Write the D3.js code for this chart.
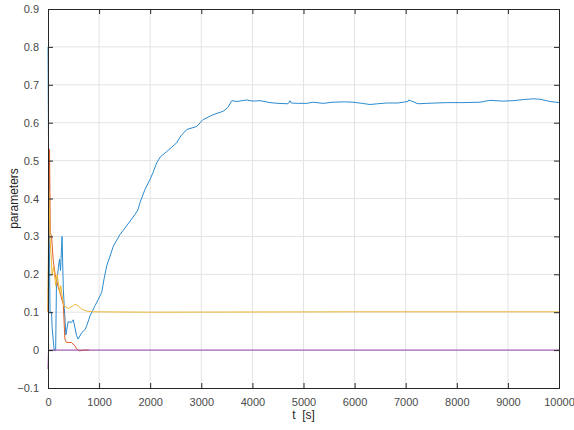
<!DOCTYPE html>
<html>
<head>
<meta charset="utf-8">
<script src="https://cdn.jsdelivr.net/npm/d3@7"></script>
<style>
  body { margin: 0; background: #fff; }
  svg { font-family: "Liberation Sans", Arial, sans-serif; }
</style>
</head>
<body>
<div id="chart"></div>
<script>
// series: [t, value]
const blueSeries = [
  [0, 0.80], [10, 0.55], [25, 0.30], [40, 0.10], [70, 0.10], [80, 0.06], [120, 0.0], [150, 0.0],
  [165, 0.17], [205, 0.22], [225, 0.24], [245, 0.21], [275, 0.30], [300, 0.16], [320, 0.11],
  [350, 0.04], [395, 0.075], [460, 0.073], [495, 0.08], [560, 0.038], [590, 0.029], [660, 0.046],
  [730, 0.055], [760, 0.065], [822, 0.09], [920, 0.117], [1051, 0.152], [1100, 0.19], [1149, 0.222],
  [1278, 0.274], [1409, 0.305], [1550, 0.33], [1703, 0.358], [1760, 0.37], [1800, 0.389],
  [1898, 0.424], [1996, 0.45], [2060, 0.47], [2127, 0.494], [2200, 0.51], [2323, 0.524],
  [2420, 0.535], [2518, 0.547], [2600, 0.565], [2714, 0.582], [2910, 0.59], [3033, 0.608],
  [3170, 0.617], [3229, 0.621], [3425, 0.63], [3520, 0.64], [3595, 0.658], [3700, 0.656],
  [3888, 0.66], [4000, 0.657], [4149, 0.658], [4344, 0.653], [4500, 0.651], [4697, 0.65],
  [4736, 0.658], [4760, 0.652], [4900, 0.651], [5063, 0.651], [5186, 0.654], [5382, 0.651],
  [5577, 0.654], [5800, 0.655], [5969, 0.654], [6150, 0.651], [6301, 0.648], [6450, 0.650],
  [6628, 0.652], [6850, 0.652], [7045, 0.656], [7060, 0.66], [7241, 0.650], [7411, 0.651],
  [7600, 0.652], [7802, 0.653], [8100, 0.653], [8454, 0.654], [8650, 0.659], [8900, 0.657],
  [9100, 0.658], [9300, 0.661], [9491, 0.663], [9628, 0.662], [9824, 0.656], [10000, 0.653]
];
const orangeSeries = [
  [0, 0.10], [30, 0.53], [45, 0.31], [70, 0.30], [100, 0.24], [140, 0.20], [190, 0.17],
  [240, 0.15], [270, 0.134], [300, 0.12], [330, 0.029], [365, 0.02], [460, 0.02], [530, 0.011],
  [560, 0.003], [620, -0.002], [700, 0.0], [800, 0.0]
];
const yellowSeries = [
  [0, 0.10], [15, 0.42], [40, 0.30], [80, 0.20], [110, 0.22], [150, 0.17], [180, 0.20],
  [230, 0.15], [250, 0.17], [280, 0.14], [310, 0.117], [400, 0.11], [490, 0.117], [530, 0.121],
  [590, 0.117], [660, 0.108], [760, 0.103], [890, 0.101], [2000, 0.100], [6000, 0.101],
  [10000, 0.101]
];
const purpleSeries = [
  [0, -0.05], [10, 0.0], [10000, 0.0]
];

const seriesList = [blueSeries, orangeSeries, yellowSeries, purpleSeries];
const seriesColors = ["#2b8bd0", "#e0602b", "#f0b733", "#9645a6"];

const xTicks = [0, 1000, 2000, 3000, 4000, 5000, 6000, 7000, 8000, 9000, 10000];
const yTicks = [-0.1, 0, 0.1, 0.2, 0.3, 0.4, 0.5, 0.6, 0.7, 0.8, 0.9];

const width = 574, height = 430;
const margin = {top: 9, right: 15, bottom: 42, left: 48};
const plotW = width - margin.left - margin.right;
const plotH = height - margin.top - margin.bottom;

const svg = d3.select("#chart").append("svg")
  .attr("width", width)
  .attr("height", height);

const g = svg.append("g")
  .attr("transform", `translate(${margin.left},${margin.top})`);

const x = d3.scaleLinear().domain([0, 10000]).range([0, plotW]);
const y = d3.scaleLinear().domain([-0.1, 0.9]).range([plotH, 0]);

// grid
g.append("g").selectAll("line.vg").data(xTicks.slice(1, -1)).enter().append("line")
  .attr("x1", d => x(d)).attr("x2", d => x(d))
  .attr("y1", 0).attr("y2", plotH)
  .style("stroke", "#e3e3e3").style("stroke-width", 1);
g.append("g").selectAll("line.hg").data(yTicks.slice(1, -1)).enter().append("line")
  .attr("x1", 0).attr("x2", plotW)
  .attr("y1", d => y(d)).attr("y2", d => y(d))
  .style("stroke", "#e3e3e3").style("stroke-width", 1);

// data lines
const line = d3.line().x(d => x(d[0])).y(d => y(d[1]));
g.append("g").selectAll("path").data(seriesList).enter().append("path")
  .attr("d", line)
  .style("fill", "none")
  .style("stroke", (d, i) => seriesColors[i])
  .style("stroke-width", 1)
  .style("stroke-linejoin", "round");

// axes (ticks inward, on all four sides)
const axisColor = "#262626";
const xAxis = d3.axisBottom(x).tickValues(xTicks).tickSize(-5).tickPadding(10).tickFormat(d3.format("d"));
const yAxis = d3.axisLeft(y).tickValues(yTicks).tickSize(-5).tickPadding(9)
  .tickFormat(d => d === 0 ? "0" : d3.format(".1f")(d));

const xa = g.append("g").attr("transform", `translate(0,${plotH})`).call(xAxis);
const ya = g.append("g").call(yAxis);
const xTop = g.append("g").call(d3.axisTop(x).tickValues(xTicks).tickSize(-5).tickFormat(""));
const yRight = g.append("g").attr("transform", `translate(${plotW},0)`)
  .call(d3.axisRight(y).tickValues(yTicks).tickSize(-5).tickFormat(""));

[xa, ya, xTop, yRight].forEach(a => {
  a.select(".domain").style("stroke", axisColor);
  a.selectAll(".tick line").style("stroke", axisColor);
  a.selectAll(".tick text").style("fill", "#4a4a4a").style("font-size", "11px");
});

// axis labels
svg.append("text")
  .attr("x", margin.left + plotW / 2)
  .attr("y", 419)
  .attr("text-anchor", "middle")
  .style("font-size", "12px")
  .style("fill", "#262626")
  .text("t\u00a0\u00a0[s]");

svg.append("text")
  .attr("transform", `translate(18,${margin.top + plotH / 2}) rotate(-90)`)
  .attr("text-anchor", "middle")
  .style("font-size", "12px")
  .style("fill", "#262626")
  .text("parameters");
</script>
</body>
</html>
